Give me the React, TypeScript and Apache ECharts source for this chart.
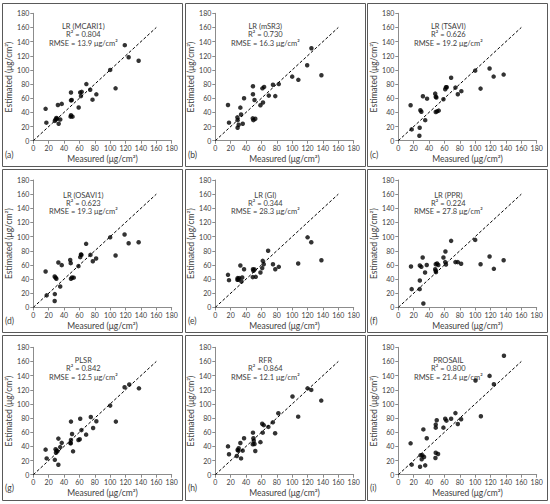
import React, { useEffect, useRef } from "react";
import * as echarts from "echarts";

// Measured vs estimated (µg/cm²) per model
const mcari1 = [[16,45],[17,25.5],[28,28],[29,30],[30,32],[31,31],[32,50.5],[33,24],[35,30],[37,52],[49,68],[49,57],[50,57.5],[48.5,34],[49,36],[51,34],[59,47],[61,68],[62,63],[63,69],[69,80],[74,72],[77,58],[82,65.5],[100,100],[107,74],[119,135],[124,118],[137,113]];
const msr3 = [[16.5,50.5],[17.8,25.5],[28.7,33],[29,29],[29,18.4],[30.4,22.6],[32.6,46.7],[33.5,37],[35.7,24],[37.4,60],[49,77],[49,65.6],[51,57.5],[48.7,31.6],[49.6,29],[52,31],[58.7,50],[61.3,74],[62,54],[63.5,76],[69.6,63.7],[75,79],[78,63],[82.6,80],[100,90.5],[108,86],[119.5,106.6],[125,130.7],[138,92.5]];
const tsavi = [[16,50],[17.4,16],[28.7,43],[30,41],[27.8,18.4],[27.4,7],[32,62.7],[35,29],[37.4,59.4],[48,66.5],[48.7,62],[49.5,61],[48.7,40.6],[50.4,41.5],[52.6,42.5],[58.7,58.5],[61,72.6],[62,75.5],[63,75.5],[68.7,89],[74.3,75],[77.4,65.6],[82,70],[100,99],[107,73.6],[118.7,102],[124,90.6],[137,93.4]];
const osavi1 = [[16,50.8],[17.4,17],[27.8,43.7],[29,42],[30,40.4],[28,18.8],[27.8,9],[32.6,63.4],[35,29.6],[37,59.7],[48,67],[48.7,62.5],[49,40.4],[50.4,42.3],[52.6,42],[58.7,58.3],[61,71],[62,74.7],[62.6,74.2],[68.7,89.8],[74.3,74.2],[77.4,65.3],[81.7,69],[100,99],[107,73.3],[118.7,103],[124,90.7],[137,92]];
const gi = [[16.5,46],[17.8,38.5],[28.7,39],[29,41.4],[30,39],[31,41.4],[32.6,59.2],[34,36.6],[35,42.3],[37.4,54],[48.7,42.8],[49,54],[49.6,51.7],[51,53.6],[52.6,43.2],[58.7,49.3],[61,55.5],[61.7,65.8],[63,61],[68.7,80],[75,61],[78,54],[82.6,57.3],[107.8,62],[120,99],[124.8,92],[138,66.7]];
const ppr = [[16.5,57.8],[17.4,25.8],[27.8,25.8],[28,38],[28,59.2],[30,57.3],[31.7,70.5],[32.6,5.6],[34.8,49.3],[37,60],[48,54],[48.7,51.7],[49,49.8],[48.7,61],[50.4,62],[52,60],[58.7,70.5],[61,64],[61.3,79],[62,60.6],[68.7,94],[74.3,64],[77.4,64],[81.7,61.6],[100,95.4],[107,61],[118.7,72],[124.3,54.5],[137,66.7]];
const plsr = [[16,35.4],[17.4,23],[28,21],[29,36],[29.5,31],[30.4,34],[31.3,33],[32.6,51],[32.6,14],[35,39],[37,45],[48.3,44.8],[48.7,44.3],[49,49],[49,75],[50.4,57.5],[51.7,33],[58.7,49],[60.4,50],[61,79],[62.6,63],[68.7,56.6],[74.8,81.6],[77.8,66],[82,75.5],[100,97.6],[107.4,75],[118.7,123.6],[124.8,127.4],[137.4,122]];
const rfr = [[16.5,40],[17.8,28.8],[28,26.4],[29,35],[30,34],[30.4,37.3],[32.6,44.8],[33.5,23],[35.6,34],[37.4,51.4],[48.7,43],[49,59.4],[49.6,51.4],[50,48],[51,43.4],[52,33.5],[58.7,46],[61,72],[61.7,59.4],[63,70],[69,67.5],[74.8,74],[77.8,58.5],[82,86.8],[100.4,110.4],[107.8,82],[120,122],[124.8,119.8],[137.8,104.7]];
const prosail = [[16,44.3],[17.4,14.2],[28.3,11.3],[29,27.4],[30.4,21.7],[31.3,27.4],[32.6,64],[33.5,25],[35,13.2],[37,51.4],[48.3,23.6],[48.7,31],[48.7,66.5],[48.7,70.8],[50,76.9],[51.7,29.2],[58.7,66.5],[61,79],[62.6,76.4],[68.7,79],[74.3,87],[77.4,71.7],[81.7,78.3],[100.4,133],[107.4,82.5],[118.7,139.6],[124.3,127.8],[137.4,168]];

const panelData = [mcari1, msr3, tsavi, osavi1, gi, ppr, plsr, rfr, prosail];
const modelNames = ["LR (MCARI1)", "LR (mSR3)", "LR (TSAVI)", "LR (OSAVI1)", "LR (GI)", "LR (PPR)", "PLSR", "RFR", "PROSAIL"];
const r2Values = ["0.804", "0.730", "0.626", "0.623", "0.344", "0.224", "0.842", "0.864", "0.800"];
const rmseValues = ["13.9", "16.3", "19.2", "19.3", "28.3", "27.8", "12.5", "12.1", "21.4"];
const panelLetters = ["(a)", "(b)", "(c)", "(d)", "(e)", "(f)", "(g)", "(h)", "(i)"];
const oneToOneLine = [[0, 0], [160, 160]];
const axisMin = 0;
const axisMax = 180;
const axisStep = 20;

const FONT = "Lato, 'Open Sans', sans-serif";

export default function App() {
  const ref = useRef<HTMLDivElement>(null);
  useEffect(() => {
    if (!ref.current) return;
    const chart = echarts.init(ref.current, undefined, { renderer: "svg" });

    const panelLefts = [2, 185, 367];
    const panelTops = [3, 169, 335];
    const panelW = 180;
    const panelH = [163, 163, 165];
    const gridLefts = [33.3, 215.3, 398.3];
    const gridTops = [13.3, 180, 347.3];
    const gridW = 138.4;
    const gridH = 127.4;
    const annotOffsets = [[13.6, 21.6, 30.2], [15.2, 23.2, 31.8], [13.6, 21.6, 30.2]];

    const grids: any[] = [];
    const xAxes: any[] = [];
    const yAxes: any[] = [];
    const series: any[] = [];
    const graphics: any[] = [];

    const axisCommon = {
      type: "value",
      min: axisMin,
      max: axisMax,
      interval: axisStep,
      splitLine: { show: false },
      axisLine: { show: true, lineStyle: { color: "#8c8c8c", width: 1 } },
      axisTick: { show: true, length: 3, lineStyle: { color: "#8c8c8c" } },
      axisLabel: { color: "#404040", fontSize: 7, fontFamily: FONT, margin: 4 },
      nameLocation: "middle",
      nameTextStyle: { color: "#404040", fontSize: 8.5, fontFamily: FONT },
    };

    for (let i = 0; i < 9; i++) {
      const col = i % 3;
      const row = Math.floor(i / 3);
      const gl = gridLefts[col];
      const gt = gridTops[row];
      grids.push({ left: gl, top: gt, width: gridW, height: gridH, containLabel: false });
      xAxes.push({ ...axisCommon, gridIndex: i, name: "Measured (μg/cm²)", nameGap: 14 });
      yAxes.push({ ...axisCommon, gridIndex: i, name: "Estimated (μg/cm²)", nameGap: 18 });
      series.push({
        type: "line",
        xAxisIndex: i,
        yAxisIndex: i,
        data: oneToOneLine,
        symbol: "none",
        silent: true,
        lineStyle: { color: "#000", width: 1, type: [3, 2] },
      });
      series.push({
        type: "scatter",
        xAxisIndex: i,
        yAxisIndex: i,
        data: panelData[i],
        symbol: "circle",
        symbolSize: 4.5,
        itemStyle: { color: "#000" },
      });

      graphics.push({
        type: "rect",
        shape: { x: panelLefts[col] + 0.5, y: panelTops[row] + 0.5, width: panelW, height: panelH[row] },
        style: { fill: "none", stroke: "#595959", lineWidth: 1 },
        silent: true,
      });
      graphics.push({
        type: "text",
        x: panelLefts[col] + 3,
        y: panelTops[row] + 152 + (row === 2 ? 1 : 0),
        style: { text: panelLetters[i], fill: "#404040", fontSize: 8.5, fontFamily: FONT, textAlign: "left", textVerticalAlign: "middle" },
      });
      const cx = gl + 50;
      const offs = annotOffsets[row];
      const lines = [modelNames[i], "R² = " + r2Values[i], "RMSE = " + rmseValues[i] + " μg/cm²"];
      lines.forEach((t, k) => {
        graphics.push({
          type: "text",
          x: cx,
          y: gt + offs[k],
          style: { text: t, fill: "#404040", fontSize: 7.5, fontFamily: FONT, textAlign: "center", textVerticalAlign: "middle" },
        });
      });
    }

    chart.setOption({
      animation: false,
      backgroundColor: "#ffffff",
      grid: grids,
      xAxis: xAxes,
      yAxis: yAxes,
      series,
      graphic: graphics,
    });
    return () => chart.dispose();
  }, []);

  return (
    <div
      ref={ref}
      style={{ position: "fixed", left: 0, top: 0, width: 550, height: 504, background: "#fff" }}
    />
  );
}
